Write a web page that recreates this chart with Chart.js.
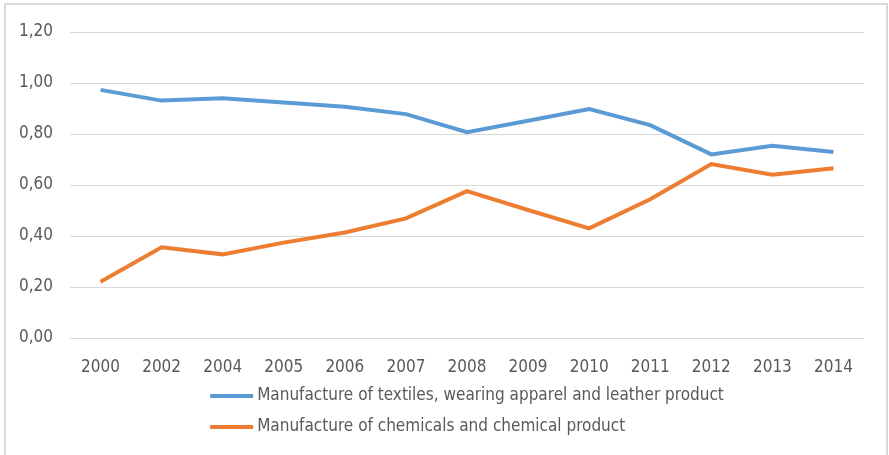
<!DOCTYPE html>
<html lang="en">
<head>
    <meta charset="UTF-8">
    <title>Manufacture chart</title>
    <script src="https://cdn.jsdelivr.net/npm/chart.js"></script>
    <style>
        body { margin: 0; background: #fff; }
        .frame {
            position: absolute; left: 4px; top: 3px; width: 880px; height: 480px;
            border: 2px solid #d9d9d9; pointer-events: none;
        }
        .chart_div { position: absolute; left: 0; top: 0; width: 889px; height: 455px; }
    </style>
</head>
<body>
    <div class="frame"></div>
    <div class="chart_div">
        <canvas id="chart1"></canvas>
    </div>

    <script>
        const years = ["2000", "2002", "2004", "2005", "2006", "2007", "2008", "2009", "2010", "2011", "2012", "2013", "2014"];
        const textiles = [0.973, 0.931, 0.940, 0.924, 0.907, 0.878, 0.807, 0.852, 0.898, 0.835, 0.720, 0.754, 0.729];
        const chemicals = [0.221, 0.356, 0.328, 0.374, 0.414, 0.469, 0.576, 0.502, 0.430, 0.544, 0.682, 0.640, 0.666];
        const seriesNames = [
            "Manufacture of textiles, wearing apparel and leather product",
            "Manufacture of chemicals and chemical product"
        ];

        const FONT = "'Liberation Sans Narrow', 'DejaVu Sans Condensed', sans-serif";
        const TXT = "#595959";
        const FSIZE = 17;

        // legend drawn by hand: stacked rows, left aligned, block centred under the plot
        const stackLegend = {
            id: 'stackLegend',
            afterDraw(chart) {
                const ctx = chart.ctx;
                const area = chart.chartArea;
                ctx.save();
                ctx.font = FSIZE + "px " + FONT;
                const widths = chart.data.datasets.map(ds => ctx.measureText(ds.label).width);
                const blockW = 43 + 4 + Math.max(...widths);
                const left = (area.left + area.right) / 2 - blockW / 2;
                chart.data.datasets.forEach((ds, i) => {
                    const y = area.bottom + 58 + i * 31;
                    ctx.strokeStyle = ds.borderColor;
                    ctx.lineWidth = 4;
                    ctx.beginPath();
                    ctx.moveTo(left, y);
                    ctx.lineTo(left + 43, y);
                    ctx.stroke();
                    ctx.fillStyle = TXT;
                    ctx.textBaseline = "middle";
                    ctx.textAlign = "left";
                    ctx.fillText(ds.label, left + 47, y);
                });
                ctx.restore();
            }
        };

        new Chart(document.getElementById("chart1"), {
            type: "line",
            data: {
                labels: years,
                datasets: [{
                    label: seriesNames[0],
                    data: textiles,
                    borderColor: "#5b9bd5",
                    borderWidth: 4,
                    pointRadius: 0,
                    tension: 0,
                    fill: false
                }, {
                    label: seriesNames[1],
                    data: chemicals,
                    borderColor: "#ed7d31",
                    borderWidth: 4,
                    pointRadius: 0,
                    tension: 0,
                    fill: false
                }]
            },
            options: {
                responsive: true,
                maintainAspectRatio: false,
                animation: false,
                layout: { padding: { top: 32, right: 25, bottom: 67, left: 0 } },
                plugins: {
                    legend: { display: false },
                    tooltip: { enabled: false }
                },
                scales: {
                    x: {
                        offset: true,
                        grid: { display: false, drawTicks: false },
                        border: { display: false },
                        ticks: { color: TXT, font: { family: FONT, size: FSIZE }, padding: 19, maxRotation: 0 },
                        afterFit(scale) { scale.height = 50; }
                    },
                    y: {
                        min: 0,
                        max: 1.2,
                        ticks: {
                            stepSize: 0.2,
                            color: TXT,
                            font: { family: FONT, size: FSIZE },
                            padding: 17,
                            callback: v => v.toFixed(2).replace(".", ",")
                        },
                        grid: { color: "#d9d9d9", lineWidth: 1, drawTicks: false },
                        border: { display: false },
                        afterFit(scale) { scale.width = 70; }
                    }
                }
            },
            plugins: [stackLegend]
        });
    </script>
</body>
</html>
